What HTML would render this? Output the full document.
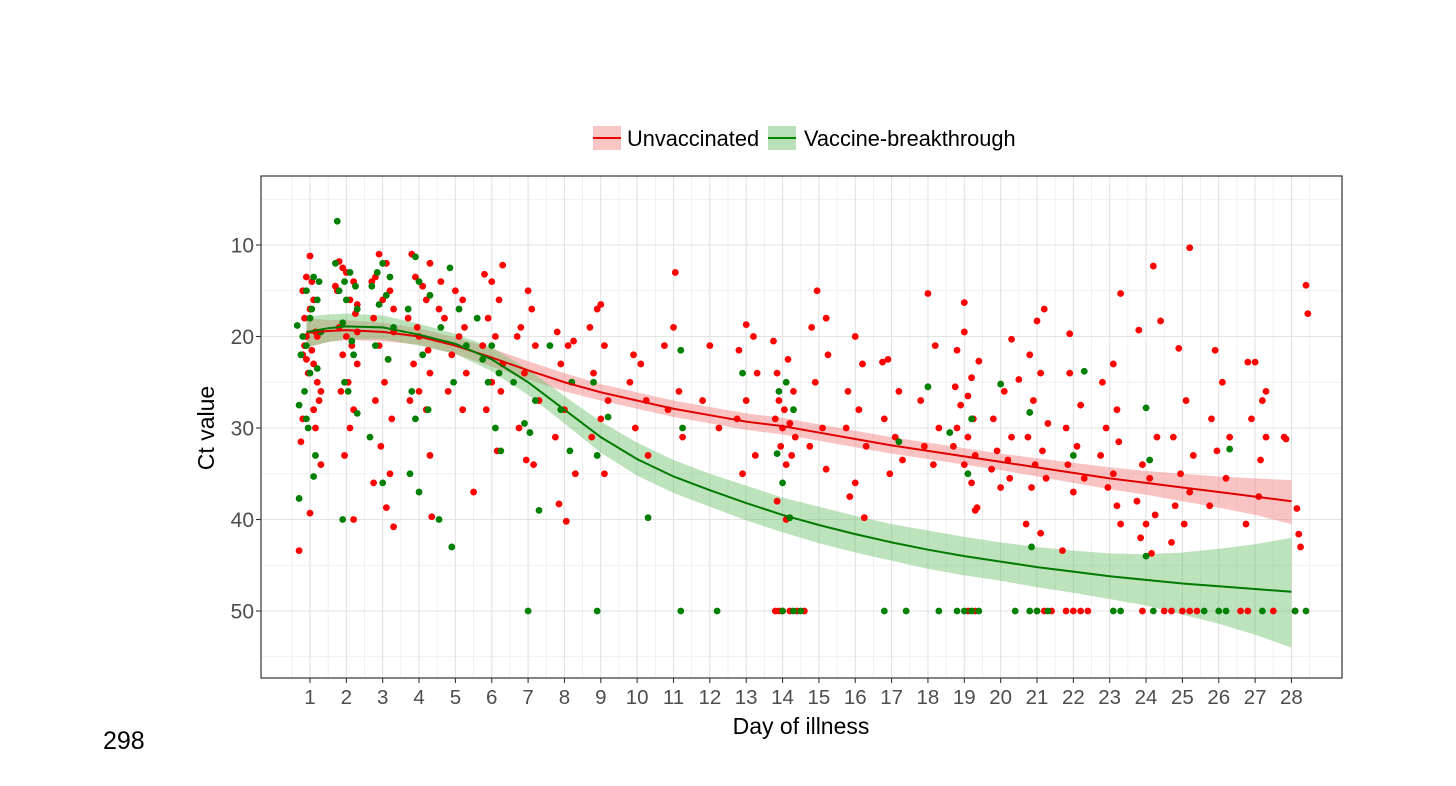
<!DOCTYPE html>
<html><head><meta charset="utf-8"><style>
html,body{margin:0;padding:0;background:#fff;}
svg{display:block;font-family:"Liberation Sans",sans-serif;}
</style></head><body>
<svg id="chart" width="1456" height="786">
<rect width="1456" height="786" fill="#fff"/>
<g id="grid"></g>
<g id="bands"></g>
<g id="pts"></g>
<g id="lines"></g>
<rect x="261" y="176" width="1081" height="502" fill="none" stroke="#333" stroke-width="1.2"/>
<g id="axes"></g>
<g>
  <g>
    <rect x="593" y="126" width="28" height="24" fill="#f8b8b8" opacity="0.8"/>
    <line x1="593" y1="138" x2="621" y2="138" stroke="#e00" stroke-width="2"/>
    <text x="627" y="146" font-size="21.8" fill="#000">Unvaccinated</text>
  </g>
  <g>
    <rect x="768" y="126" width="28" height="24" fill="#a8d8a8" opacity="0.8"/>
    <line x1="768" y1="138" x2="796" y2="138" stroke="#080" stroke-width="2"/>
    <text x="804" y="146" font-size="21.8" fill="#000">Vaccine-breakthrough</text>
  </g>
</g>
<text x="214" y="428" font-size="23" text-anchor="middle" transform="rotate(-90 214 428)">Ct value</text>
<text x="801" y="734" font-size="23" text-anchor="middle">Day of illness</text>
<text x="103" y="749" font-size="25" fill="#000">298</text>
</svg>
<script>
const xTicks=[1,2,3,4,5,6,7,8,9,10,11,12,13,14,15,16,17,18,19,20,21,22,23,24,25,26,27,28];
const yTicks=[10,20,30,40,50];
const unvaxPoints=[
[0.7,43.4],[0.75,31.5],[0.8,29],[0.8,22],[0.85,21],[0.9,20],[0.9,22.5],[0.95,24],[0.85,18],[0.8,15],[0.9,13.5],[1.0,11.2],[1.05,14],[1.1,16],[1.0,17],[1.15,19.5],[1.2,20],[1.05,21.5],[1.1,23],[1.2,25],[1.25,27],[1.15,30],[1.3,34],[1.0,39.3],[1.1,28],[1.3,26],
[1.8,11.8],[1.9,12.5],[2.0,13],[2.2,14],[1.75,15],[2.1,16],[2.25,17.5],[1.8,19],[2.0,20],[2.15,21],[1.9,22],[2.3,23],[2.05,25],[1.85,26],[2.2,28],[2.1,30],[1.95,33],[2.2,40],[2.3,19.5],[1.7,14.5],[2.3,16.5],
[2.9,11],[3.1,12],[2.8,13.5],[3.2,15],[3.0,16],[2.75,18],[3.3,19.5],[2.9,21],[3.15,22.5],[3.05,25],[2.8,27],[3.25,29],[2.95,32],[2.75,36],[3.1,38.7],[3.3,40.8],[3.2,35],[3.3,17],[2.7,14],
[3.8,11],[4.3,12],[3.9,13.5],[4.1,14.5],[4.2,16],[3.7,18],[4.0,20],[4.25,21.5],[3.85,23],[4.3,24],[4.0,26],[4.2,28],[4.3,33],[4.35,39.7],[3.75,27],[3.95,19],
[4.6,14],[5.0,15],[5.2,16],[4.7,18],[5.1,20],[4.9,22],[5.3,24],[4.8,26],[5.2,28],[4.55,17],[5.25,19],
[6.3,12.2],[5.8,13.2],[6.0,14],[6.2,16],[5.9,18],[6.1,20],[5.75,21],[6.3,23],[6.0,25],[6.25,26],[5.85,28],[6.15,32.5],[5.5,37],
[7.0,15],[7.1,17],[6.8,19],[7.2,21],[6.9,24],[7.3,27],[6.75,30],[7.15,34],[6.95,33.5],[6.7,20],
[7.8,19.5],[8.1,21],[7.9,23],[8.2,25],[8.0,28],[7.75,31],[8.3,35],[7.85,38.3],[8.05,40.2],[8.25,20.5],
[9.0,16.5],[8.9,17],[8.7,19],[9.1,21],[8.8,24],[9.2,27],[9.0,29],[8.75,31],[9.1,35],
[9.9,22],[10.1,23],[9.8,25],[10.25,27],[9.95,30],[10.3,33],
[11.05,13],[11.0,19],[10.75,21],[11.15,26],[10.85,28],[11.25,31],
[12.0,21],[11.8,27],[12.25,30],
[13.0,18.7],[13.2,20],[12.8,21.5],[13.3,24],[13.0,27],[12.75,29],[13.25,33],[12.9,35],
[13.75,20.5],[14.15,22.5],[13.85,24],[14.3,26],[13.9,27],[14.05,28],[13.8,29],[14.2,29.5],[14.0,30],[14.35,31],[13.95,32],[14.25,33],[14.1,34],[13.85,38],[14.1,40],
[14.95,15],[15.2,18],[14.8,19],[15.25,22],[14.9,25],[15.1,30],[14.75,32],[15.2,34.5],
[16.0,20],[16.2,23],[15.8,26],[16.1,28],[15.75,30],[16.3,32],[16.0,36],[15.85,37.5],[16.25,39.8],
[16.9,22.5],[16.75,22.8],[17.2,26],[16.8,29],[17.1,31],[17.3,33.5],[16.95,35],
[18.0,15.3],[18.2,21],[17.8,27],[18.3,30],[17.9,32],[18.15,34],
[19.0,16.3],[19.0,19.5],[18.8,21.5],[19.2,24.5],[18.75,25.5],[19.1,26.5],[18.9,27.5],[19.25,29],[18.8,30],[19.1,31],[18.7,32],[19.3,33],[19.0,34],[19.2,36],[19.35,38.7],[19.3,39],[19.4,22.7],
[20.1,26],[19.8,29],[20.3,31],[19.9,32.5],[20.2,33.5],[19.75,34.5],[20.25,35.5],[20.0,36.5],[20.3,20.3],[20.5,24.7],
[21.2,17],[21.0,18.3],[20.8,22],[21.1,24],[20.9,27],[21.3,29.5],[20.75,31],[21.15,32.5],[20.95,34],[21.25,35.5],[20.85,36.5],[20.7,40.5],[21.1,41.5],
[21.9,24],[22.2,27.5],[21.8,30],[22.1,32],[21.85,34],[22.3,35.5],[22.0,37],[21.7,43.4],[21.9,19.7],
[23.3,15.3],[23.1,23],[22.8,25],[23.2,28],[22.9,30],[23.25,31.5],[22.75,33],[23.1,35],[22.95,36.5],[23.2,38.5],[23.3,40.5],
[23.8,19.3],[24.2,12.3],[24.3,31],[23.9,34],[24.1,35.5],[23.75,38],[24.25,39.5],[24.0,40.5],[23.85,42],[24.15,43.7],
[25.2,10.3],[24.4,18.3],[24.9,21.3],[25.1,27],[24.75,31],[25.3,33],[24.95,35],[25.2,37],[24.8,38.5],[25.05,40.5],[24.7,42.5],
[25.9,21.5],[26.1,25],[25.8,29],[26.3,31],[25.95,32.5],[26.2,35.5],[25.75,38.5],
[26.8,22.8],[27.0,22.8],[26.9,29],[27.3,31],[27.15,33.5],[27.1,37.5],[26.75,40.5],[27.2,27],[27.3,26],
[27.8,31],[27.85,31.2],[28.15,38.8],[28.2,41.6],[28.25,43],[28.4,14.4],[28.45,17.5],
[13.8,50],[13.9,50],[14.0,50],[14.2,50],[14.4,50],[14.6,50],[19.1,50],[19.3,50],[21.0,50],[21.2,50],[21.4,50],[21.8,50],[22.0,50],[22.2,50],[22.4,50],[23.9,50],[24.5,50],[24.7,50],[25.0,50],[25.2,50],[25.4,50],[26.6,50],[26.8,50],[27.5,50],[28.1,50]
];
const vaxPoints=[
[0.65,18.8],[0.8,20],[0.9,21],[0.75,22],[1.0,24],[0.85,26],[0.7,27.5],[0.9,29],[0.7,37.7],[1.1,35.3],[1.15,33],[0.95,30],[1.2,23.5],[1.05,17],[1.2,16],[0.9,15],[1.25,14],[1.1,13.5],[1.3,19.5],[1.0,18],
[1.75,7.4],[1.7,12],[2.1,13],[1.95,14],[2.25,14.5],[1.8,15],[2.0,16],[2.3,17],[1.9,18.5],[2.15,20.5],[1.95,25],[2.05,26],[2.3,28.4],[1.9,40],[2.2,22],
[3.0,12],[2.85,13],[3.2,13.5],[2.7,14.5],[3.1,15.5],[2.9,16.5],[3.3,19],[2.8,21],[3.15,22.5],[2.65,31],[3.0,36],
[3.9,11.3],[4.0,14],[4.3,15.5],[3.7,17],[4.1,22],[3.8,26],[4.25,28],[3.9,29],[3.75,35],[4.0,37],
[4.85,12.5],[5.1,17],[4.6,19],[5.3,21],[4.95,25],[4.55,40],[4.9,43],
[5.6,18],[6.0,21],[5.75,22.5],[6.2,24],[5.9,25],[6.1,30],[6.25,32.5],
[6.6,25],[7.2,27],[6.9,29.5],[7.05,30.5],[7.3,39],
[7.6,21],[8.2,25],[7.9,28],[8.15,32.5],
[8.8,25],[9.2,28.8],[8.9,33],
[10.3,39.8],[11.2,21.5],[11.25,30],
[12.9,24],[14.1,25],[13.9,26],[14.3,28],[13.85,32.8],[14.0,36],[14.2,39.8],
[17.2,31.5],[18.0,25.5],[18.6,30.5],[19.2,29],[19.1,35],[20.0,25.2],[20.8,28.3],[20.85,43],[22.3,23.8],[22.0,33],[24.0,27.8],[24.1,33.5],[24.0,44],[26.3,32.3],
[7.0,50],[8.9,50],[11.2,50],[12.2,50],[14.0,50],[14.3,50],[14.5,50],[16.8,50],[17.4,50],[18.3,50],[18.8,50],[19.0,50],[19.2,50],[19.4,50],[20.4,50],[20.8,50],[21.0,50],[21.3,50],[23.1,50],[23.3,50],[24.2,50],[25.6,50],[26.0,50],[26.2,50],[27.2,50],[28.1,50],[28.4,50]
];
const fitDays=[0.9,1.5,2,3,4,5,6,7,8,9,10,11,12,13,14,15,16,17,18,19,20,21,22,23,24,25,26,27,28];
const unvaxFit=[19.6,19.4,19.3,19.5,20,21,22.3,23.7,25,26.1,27,27.9,28.6,29.3,29.8,30.5,31.2,31.9,32.5,33.1,33.7,34.3,34.9,35.5,36,36.5,37,37.5,38];
const unvaxLow=[18.0,18.2,18.2,18.5,19.1,20.1,21.3,22.7,24,25.2,26.1,27,27.7,28.4,28.9,29.6,30.3,31,31.6,32.2,32.8,33.3,33.8,34.3,34.7,35,35.3,35.5,35.7];
const unvaxHigh=[21.2,20.6,20.4,20.5,20.9,21.9,23.3,24.7,26,27,27.9,28.8,29.5,30.2,30.7,31.4,32.1,32.8,33.4,34,34.6,35.3,36,36.7,37.3,38,38.7,39.5,40.5];
const vaxFit=[19.5,19.1,18.9,19,19.8,20.8,22.5,25,28,31,33.4,35.3,36.8,38.2,39.5,40.6,41.6,42.5,43.3,44,44.6,45.2,45.7,46.2,46.6,47,47.3,47.6,47.9];
const vaxLow=[17.8,17.6,17.5,17.7,18.6,19.7,21.2,23.6,26.5,29.3,31.6,33.5,35,36.3,37.6,38.6,39.6,40.5,41.2,41.9,42.5,43,43.4,43.7,43.8,43.6,43.2,42.7,42];
const vaxHigh=[21.2,20.6,20.3,20.3,21,21.9,23.8,26.4,29.5,32.7,35.2,37.1,38.6,40.1,41.4,42.6,43.6,44.5,45.4,46.1,46.7,47.4,48,48.7,49.4,50.4,51.4,52.6,54];

const NS='http://www.w3.org/2000/svg';
const X0=261,X1=1342,Y0=176,Y1=678;
const xs=d=>310+(d-1)*36.35;
const ys=c=>245+(c-10)*9.15;
function mk(tag,attrs,parent){const e=document.createElementNS(NS,tag);for(const k in attrs)e.setAttribute(k,attrs[k]);parent.appendChild(e);return e;}
const grid=document.getElementById('grid'),axes=document.getElementById('axes');
for(let d=0;d<=29;d+=1){const x=xs(d+0.5);if(x>X0&&x<X1){const l=mk('line',{x1:x,x2:x,y1:Y0,y2:Y1,stroke:'#ececec','stroke-width':0.8},grid);

}}
for(let c=5;c<=55;c+=10){const y=ys(c);const l=mk('line',{x1:X0,x2:X1,y1:y,y2:y,stroke:'#ececec','stroke-width':0.8},grid);

}
xTicks.forEach(d=>{const x=xs(d);const l=mk('line',{x1:x,x2:x,y1:Y0,y2:Y1,stroke:'#e2e2e2','stroke-width':1.1},grid);


const t=mk('line',{x1:x,x2:x,y1:Y1,y2:Y1+5,stroke:'#333','stroke-width':1.1},axes);


const tx=mk('text',{x:x,y:Y1+26,'font-size':20.5,fill:'#4d4d4d','text-anchor':'middle'},axes);tx.textContent=d;

});
yTicks.forEach(c=>{const y=ys(c);const l=mk('line',{x1:X0,x2:X1,y1:y,y2:y,stroke:'#e2e2e2','stroke-width':1.1},grid);


const t=mk('line',{x1:X0-5,x2:X0,y1:y,y2:y,stroke:'#333','stroke-width':1.1},axes);


const tx=mk('text',{x:X0-7,y:y+7.5,'font-size':21,fill:'#4d4d4d','text-anchor':'end'},axes);tx.textContent=c;

});
const bands=document.getElementById('bands');
function band(lo,hi,fill,name){let p='';fitDays.forEach((d,i)=>{p+=(i?'L':'M')+xs(d)+','+ys(hi[i]);});
for(let i=fitDays.length-1;i>=0;i--)p+='L'+xs(fitDays[i])+','+ys(lo[i]);p+='Z';
const e=mk('path',{d:p,fill:fill,'fill-opacity':0.45},bands);

}
band(unvaxLow,unvaxHigh,'#f47a7a','unvaccinated-ci-band');
band(vaxLow,vaxHigh,'#6cc06c','vaccine-breakthrough-ci-band');
const pts=document.getElementById('pts');
unvaxPoints.forEach(p=>{const c=mk('circle',{cx:xs(p[0]),cy:ys(p[1]),r:3.4,fill:'#f00'},pts);

});
vaxPoints.forEach(p=>{const c=mk('circle',{cx:xs(p[0]),cy:ys(p[1]),r:3.4,fill:'#008000'},pts);

});
const lines=document.getElementById('lines');
function line(v,col,name){const p=fitDays.map((d,i)=>(i?'L':'M')+xs(d)+','+ys(v[i])).join('');
const e=mk('path',{d:p,fill:'none',stroke:col,'stroke-width':2},lines);

}
line(unvaxFit,'#e00000','unvaccinated-fit-line');
line(vaxFit,'#007a00','vaccine-breakthrough-fit-line');
</script>
</body></html>
